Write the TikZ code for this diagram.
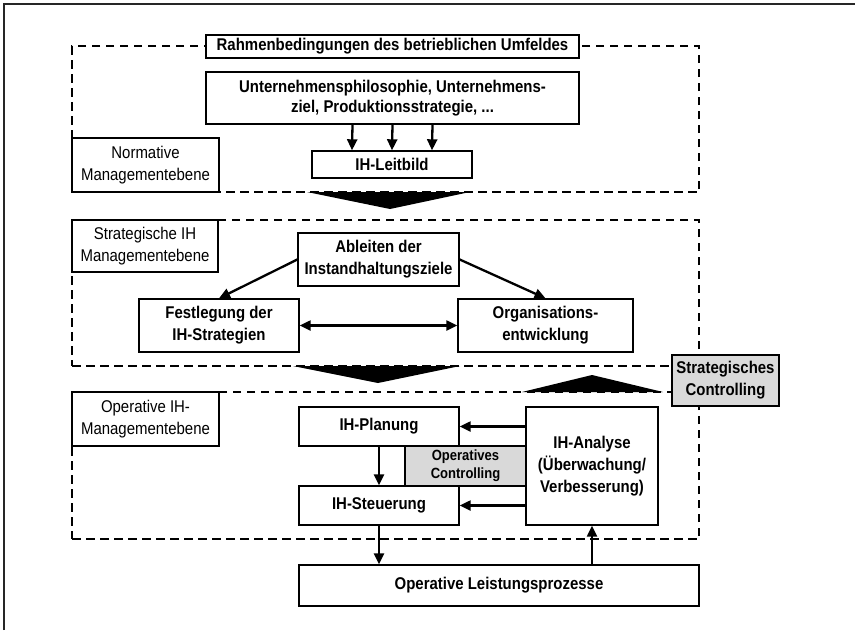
\documentclass[tikz,border=0pt]{standalone}
\usepackage{fontspec}
\setmainfont{Liberation Sans}[FakeStretch=0.88]
\usetikzlibrary{arrows.meta}
\definecolor{ctrlgray}{RGB}{217,217,217}
\begin{document}
\begin{tikzpicture}[x=1pt,y=-1pt,
  box/.style={draw, line width=1.4pt, fill=white, inner sep=0pt, align=center,
              font=\bfseries\fontsize{17}{22}\selectfont},
  lbl/.style={draw, line width=1.4pt, fill=white, inner sep=0pt, align=center,
              font=\fontsize{17}{21.5}\selectfont},
  ctrl/.style={box, fill=ctrlgray},
  zone/.style={draw, line width=1.5pt, dash pattern=on 8.5pt off 5.5pt, inner sep=0pt},
  tip/.tip={Triangle[length=11pt,width=10pt]},
  arr/.style={line width=2.3pt, -tip},
  dblarr/.style={line width=2.3pt, tip-tip},
  bigtri/.style={fill=black}
]
\useasboundingbox (0,0) rectangle (855,630);

% page frame
\draw[line width=1.5pt, black!85] (4,630) -- (4,4) -- (855,4);

% management levels (dashed zones)
\node[zone, minimum width=627, minimum height=146] (normzone)  at (385.5,119)   {};
\node[zone, minimum width=627, minimum height=146] (stratzone) at (385.5,293)   {};
\node[zone, minimum width=627, minimum height=147] (operzone)  at (385.5,465.5) {};

% transition wedges between the levels
\coordinate (w1a) at (307,192); \coordinate (w1b) at (470,192); \coordinate (w1c) at (390,209);
\coordinate (w2a) at (293,366); \coordinate (w2b) at (460,366); \coordinate (w2c) at (378,383);
\coordinate (w3a) at (522,392); \coordinate (w3b) at (663,392); \coordinate (w3c) at (592,375);
\fill[bigtri] (w1a) -- (w1b) -- (w1c) -- cycle;
\fill[bigtri] (w2a) -- (w2b) -- (w2c) -- cycle;
\fill[bigtri] (w3a) -- (w3b) -- (w3c) -- cycle;

% level labels
\node[lbl, minimum width=147, minimum height=54] (normlbl)  at (145.5,165) {Normative\\Managementebene};
\node[lbl, minimum width=146, minimum height=52] (stratlbl) at (145,246)   {Strategische IH\\Managementebene};
\node[lbl, minimum width=147, minimum height=54] (operlbl)  at (145.5,419) {Operative IH-\\Managementebene};

% normative level
\node[box, minimum width=373, minimum height=23] (rahmen) at (392.5,46.5) {Rahmenbedingungen des betrieblichen Umfeldes};
\node[box, minimum width=373, minimum height=52, font=\bfseries\fontsize{17}{20.5}\selectfont] (unternehmen) at (392.5,98)
  {Unternehmensphilosophie, Unternehmens-\\ziel, Produktionsstrategie, ...};
\node[box, minimum width=160, minimum height=27] (leitbild) at (392,164.5) {IH-Leitbild};

% strategic level
\node[box, minimum width=161, minimum height=53] (ableiten)     at (378.5,259.5) {Ableiten der\\Instandhaltungsziele};
\node[box, minimum width=160, minimum height=53] (festlegung)   at (219,325.5)   {Festlegung der\\IH-Strategien};
\node[box, minimum width=175, minimum height=53] (organisation) at (545.5,325.5) {Organisations-\\entwicklung};

% operative level
\node[box, minimum width=160, minimum height=39] (planung)   at (379,426.5) {IH-Planung};
\node[box, minimum width=160, minimum height=39] (steuerung) at (379,505.5) {IH-Steuerung};
\node[ctrl, minimum width=121, minimum height=40, font=\bfseries\fontsize{14.8}{18}\selectfont] (opctrl) at (465.5,466)
  {Operatives\\Controlling};
\node[box, minimum width=132, minimum height=118] (analyse) at (592,466)
  {IH-Analyse\\(Überwachung/\\Verbesserung)};
\node[box, minimum width=400, minimum height=41] (leistung) at (499,585.5) {Operative Leistungsprozesse};

\node[ctrl, minimum width=107, minimum height=51] (stratctrl) at (725.5,380.5) {Strategisches\\Controlling};

% connectors
\foreach \dx in {-40,0,40}
  \draw[arr] ([xshift=\dx pt]unternehmen.south) -- ([xshift=\dx pt]leitbild.north);
\draw[arr] (ableiten.west) -- (festlegung.north);
\draw[arr] (ableiten.east) -- (organisation.north);
\draw[dblarr] (festlegung.east) -- (organisation.west);
\draw[arr] (analyse.west |- planung.east) -- (planung.east);
\draw[arr] (analyse.west |- steuerung.east) -- (steuerung.east);
\draw[arr] (planung.south) -- (steuerung.north);
\draw[arr] (steuerung.south) -- (steuerung.south |- leistung.north);
\draw[arr] (analyse.south |- leistung.north) -- (analyse.south);
\end{tikzpicture}
\end{document}
